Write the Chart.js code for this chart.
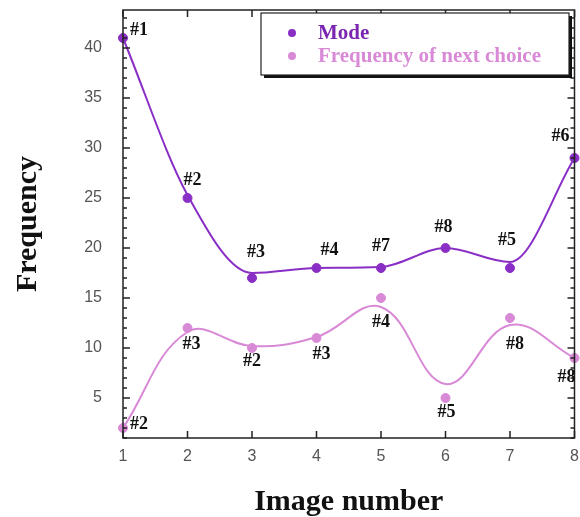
<!DOCTYPE html>
<html>
<head>
<meta charset="utf-8">
<script src="https://cdn.jsdelivr.net/npm/chart.js@4.4.0/dist/chart.umd.min.js"></script>
<style>
  html, body { margin: 0; padding: 0; background: #fff; }
  #wrap { width: 580px; height: 517px; }
</style>
</head>
<body>
<div id="wrap"><canvas id="freqChart" width="580" height="517"></canvas></div>
<script>
// data
const imageNumbers = ["1", "2", "3", "4", "5", "6", "7", "8"];
const modeValues = [41, 25, 17, 18, 18, 20, 18, 29];
const nextValues = [2, 12, 10, 11, 15, 5, 13, 9];
// fitted curves, read at each image number
const modeCurve = [41, 25.3, 17.5, 18, 18.1, 20, 18.6, 29];
const nextCurve = [2, 11.6, 10.2, 11.1, 14.1, 6.4, 12.3, 9];
const modeTags = ["#1", "#2", "#3", "#4", "#7", "#8", "#5", "#6"];
const nextTags = ["#2", "#3", "#2", "#3", "#4", "#5", "#8", "#8"];
const yTicks = [5, 10, 15, 20, 25, 30, 35, 40];

const MODE_COLOR = "#8a2fc6";
const NEXT_COLOR = "#d98ad6";
const SERIF = "'Liberation Serif', 'Times New Roman', serif";

// tag offsets (px) relative to each point
const modeTagOffsets = [[16, -8], [5, -18], [4, -26], [13, -18], [0, -22], [-2, -21], [-3, -28], [-14, -22]];
const nextTagOffsets = [[16, -4], [4, 16], [0, 13], [5, 16], [0, 24], [1, 14], [5, 26], [-8, 19]];

// -------------------------
// frame, inward ticks, tags, titles, legend
// -------------------------
const decorPlugin = {
    id: "decor",
    afterDatasetsDraw(chart) {
        const ctx = chart.ctx;
        const { left, right, top, bottom } = chart.chartArea;
        const xs = chart.scales.x;
        const ys = chart.scales.y;

        ctx.save();
        ctx.strokeStyle = "#222";
        ctx.lineWidth = 1.5;
        ctx.strokeRect(left, top, right - left, bottom - top);

        ctx.beginPath();
        imageNumbers.forEach((_, i) => {
            const px = xs.getPixelForValue(i);
            ctx.moveTo(px, bottom); ctx.lineTo(px, bottom - 7);
            ctx.moveTo(px, top); ctx.lineTo(px, top + 7);
        });
        for (let v = Math.ceil(ys.min); v <= ys.max; v++) {
            const py = ys.getPixelForValue(v);
            const len = v % 5 === 0 ? 7 : 4;
            ctx.moveTo(left, py); ctx.lineTo(left + len, py);
            ctx.moveTo(right, py); ctx.lineTo(right - len, py);
        }
        ctx.stroke();

        // point tags
        ctx.fillStyle = "#111";
        ctx.font = "bold 18px " + SERIF;
        ctx.textAlign = "center";
        ctx.textBaseline = "middle";
        const tagSeries = [[modeValues, modeTags, modeTagOffsets], [nextValues, nextTags, nextTagOffsets]];
        tagSeries.forEach(([vals, tags, offs]) => {
            vals.forEach((v, i) => {
                const px = xs.getPixelForValue(i) + offs[i][0];
                const py = ys.getPixelForValue(v) + offs[i][1];
                ctx.fillText(tags[i], px, py);
            });
        });

        // axis titles
        ctx.font = "bold 30px " + SERIF;
        ctx.textBaseline = "alphabetic";
        ctx.fillText("Image number", (left + right) / 2, 510);
        ctx.save();
        ctx.translate(36, (top + bottom) / 2);
        ctx.rotate(-Math.PI / 2);
        ctx.fillText("Frequency", 0, 0);
        ctx.restore();

        // legend box with shadow
        const lx = 261, ly = 13, lw = 308, lh = 62;
        ctx.fillStyle = "#111";
        ctx.fillRect(lx + 3, ly + 3, lw, lh);
        ctx.fillStyle = "#fff";
        ctx.fillRect(lx, ly, lw, lh);
        ctx.lineWidth = 1.2;
        ctx.strokeRect(lx, ly, lw, lh);

        const entries = [["Mode", MODE_COLOR, "#7a26b0", 33], ["Frequency of next choice", NEXT_COLOR, NEXT_COLOR, 56]];
        ctx.font = "bold 21px " + SERIF;
        ctx.textAlign = "left";
        ctx.textBaseline = "middle";
        entries.forEach(([text, dot, txt, y]) => {
            ctx.fillStyle = dot;
            ctx.beginPath();
            ctx.arc(292, y, 4, 0, Math.PI * 2);
            ctx.fill();
            ctx.fillStyle = txt;
            ctx.fillText(text, 318, y + 1);
        });
        ctx.restore();
    }
};

// no extra label padding round the plot area
function noPad(s) {
    s.paddingTop = 0; s.paddingBottom = 0;
    s.paddingLeft = 0; s.paddingRight = 0;
}

const ctx = document.getElementById("freqChart").getContext("2d");

new Chart(ctx, {
    type: "line",
    data: {
        labels: imageNumbers,
        datasets: [
            {
                label: "Mode fit",
                data: modeCurve,
                borderColor: MODE_COLOR,
                borderWidth: 2,
                pointRadius: 0,
                cubicInterpolationMode: "monotone",
                fill: false
            },
            {
                label: "Next fit",
                data: nextCurve,
                borderColor: NEXT_COLOR,
                borderWidth: 2,
                pointRadius: 0,
                tension: 0.4,
                fill: false
            },
            {
                label: "Mode",
                data: modeValues,
                showLine: false,
                pointRadius: 4.5,
                pointBackgroundColor: MODE_COLOR,
                pointBorderColor: MODE_COLOR
            },
            {
                label: "Frequency of next choice",
                data: nextValues,
                showLine: false,
                pointRadius: 4.5,
                pointBackgroundColor: NEXT_COLOR,
                pointBorderColor: NEXT_COLOR
            }
        ]
    },
    options: {
        responsive: false,
        animation: false,
        layout: { padding: { top: 10, right: 4, left: 0, bottom: 0 } },
        plugins: {
            legend: { display: false },
            tooltip: { enabled: false }
        },
        scales: {
            x: {
                offset: false,
                grid: { display: false },
                border: { display: false },
                ticks: {
                    color: "#555",
                    padding: 1,
                    maxRotation: 0,
                    font: { family: "'Liberation Sans', Arial, sans-serif", size: 16 }
                },
                afterFit: (s) => { s.height = 79; noPad(s); }
            },
            y: {
                min: 1,
                max: 43.8,
                grid: { display: false },
                border: { display: false },
                afterBuildTicks: (s) => { s.ticks = yTicks.map(v => ({ value: v })); },
                ticks: {
                    color: "#555",
                    padding: 13,
                    font: { family: "'Liberation Sans', Arial, sans-serif", size: 16 }
                },
                afterFit: (s) => { s.width = 123; noPad(s); }
            }
        }
    },
    plugins: [decorPlugin]
});
</script>
</body>
</html>
